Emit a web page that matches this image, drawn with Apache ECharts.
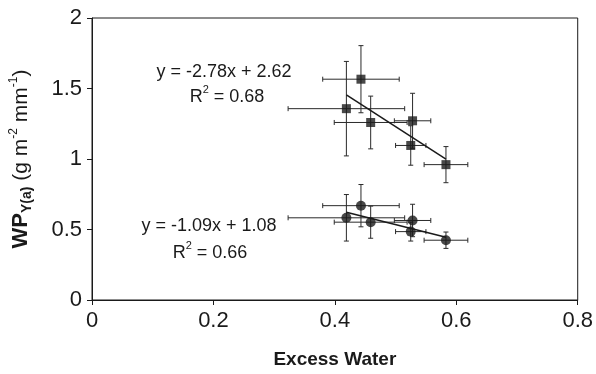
<!DOCTYPE html>
<html>
<head>
<meta charset="utf-8">
<script src="https://cdn.jsdelivr.net/npm/echarts@6/dist/echarts.min.js"></script>
<style>html,body{margin:0;padding:0;background:#fff}#c{width:596px;height:374px}</style>
</head>
<body>
<div id="c"></div>
<script>
// Data
var xVals = [0.443, 0.419, 0.459, 0.528, 0.525, 0.583];
var xErr = [0.063, 0.096, 0.060, 0.030, 0.025, 0.036];
var squareY = [1.566, 1.357, 1.259, 1.271, 1.096, 0.960];
var squareErr = [0.238, 0.335, 0.187, 0.195, 0.140, 0.128];
var circleY = [0.669, 0.583, 0.552, 0.564, 0.485, 0.424];
var circleErr = [0.150, 0.165, 0.114, 0.115, 0.067, 0.058];
var trendX = [0.419, 0.583];
var squareTrend = [1.455, 0.999];
var circleTrend = [0.623, 0.445];
var xTicks = [0, 0.2, 0.4, 0.6, 0.8];
var yTicks = [0, 0.5, 1, 1.5, 2];
var squareEq = ['y = -2.78x + 2.62', '0.68'];
var circleEq = ['y = -1.09x + 1.08', '0.66'];

var FONT = '"Liberation Sans", Arial, sans-serif';
var INK = '#1a1a1a';

function pts(ys) { return xVals.map(function (x, i) { return [x, ys[i]]; }); }
function errData(ys, ye) { return xVals.map(function (x, i) { return [x, ys[i], xErr[i], ye[i]]; }); }
function trend(ys) { return trendX.map(function (x, i) { return [x, ys[i]]; }); }

function renderErr(params, api) {
  var x = api.value(0), y = api.value(1), dx = api.value(2), dy = api.value(3);
  var c = api.coord([x, y]);
  var l = api.coord([x - dx, y]), r = api.coord([x + dx, y]);
  var t = api.coord([x, y + dy]), b = api.coord([x, y - dy]);
  var cap = 2.5;
  var st = { stroke: '#2a2a2a', lineWidth: 1 };
  function ln(x1, y1, x2, y2) { return { type: 'line', shape: { x1: x1, y1: y1, x2: x2, y2: y2 }, style: st }; }
  return {
    type: 'group',
    children: [
      ln(l[0], c[1], r[0], c[1]),
      ln(l[0], c[1] - cap, l[0], c[1] + cap),
      ln(r[0], c[1] - cap, r[0], c[1] + cap),
      ln(c[0], t[1], c[0], b[1]),
      ln(c[0] - cap, t[1], c[0] + cap, t[1]),
      ln(c[0] - cap, b[1], c[0] + cap, b[1])
    ]
  };
}

function eqGraphics(eq, cx1, cy1, cx2, cy2) {
  return [
    { type: 'text', x: cx1, y: cy1, z: 10, style: { text: eq[0], align: 'center', verticalAlign: 'middle', fill: INK, fontSize: 18, fontFamily: FONT } },
    { type: 'text', x: cx2, y: cy2, z: 10, style: {
        text: '{n|R}{s|2}{n| = ' + eq[1] + '}', align: 'center', verticalAlign: 'middle',
        rich: {
          n: { fontSize: 18, fontFamily: FONT, fill: INK, verticalAlign: 'bottom', lineHeight: 22 },
          s: { fontSize: 11, fontFamily: FONT, fill: INK, verticalAlign: 'top', lineHeight: 22 }
        }
      } }
  ];
}

var chart = echarts.init(document.getElementById('c'), null, { renderer: 'canvas' });
var axisLine = { show: true, lineStyle: { color: INK, width: 1 } };
chart.setOption({
  animation: false,
  backgroundColor: '#fff',
  grid: { left: 88, right: 17, top: 18, bottom: 70, show: true, borderColor: INK, borderWidth: 1 },
  xAxis: {
    type: 'value', min: xTicks[0], max: xTicks[xTicks.length - 1], interval: 0.2,
    axisLine: axisLine, axisTick: { show: true, length: 5, lineStyle: { color: INK } },
    splitLine: { show: false },
    axisLabel: { fontSize: 22, fontFamily: FONT, color: INK, margin: 10, formatter: function (v) { return String(+v.toFixed(1)); } },
    name: 'Excess Water', nameLocation: 'middle', nameGap: 50,
    nameTextStyle: { fontSize: 19, fontWeight: 'bold', fontFamily: FONT, color: INK }
  },
  yAxis: {
    type: 'value', min: yTicks[0], max: yTicks[yTicks.length - 1], interval: 0.5,
    axisLine: axisLine, axisTick: { show: true, length: 5, lineStyle: { color: INK } },
    splitLine: { show: false },
    axisLabel: { fontSize: 22, fontFamily: FONT, color: INK, margin: 10, formatter: function (v) { return String(+v.toFixed(1)); } },
    name: '{b|WP}{bs|Y(a)}{n| (g m}{sp|-2}{n| mm}{sp|-1}{n|)}',
    nameLocation: 'middle', nameGap: 58, nameRotate: 90,
    nameTextStyle: {
      rich: {
        b: { fontSize: 22, fontWeight: 'bold', fontFamily: FONT, color: INK, verticalAlign: 'middle', lineHeight: 26 },
        bs: { fontSize: 14, fontWeight: 'bold', fontFamily: FONT, color: INK, verticalAlign: 'bottom', lineHeight: 26 },
        n: { fontSize: 21, fontFamily: FONT, color: INK, verticalAlign: 'middle', lineHeight: 26 },
        sp: { fontSize: 12, fontFamily: FONT, color: INK, verticalAlign: 'top', lineHeight: 26 }
      }
    }
  },
  graphic: [].concat(eqGraphics(squareEq, 224, 72, 227, 95), eqGraphics(circleEq, 209, 226, 210, 251)),
  series: [
    { type: 'custom', renderItem: renderErr, data: errData(squareY, squareErr), encode: { x: 0, y: 1 }, z: 2 },
    { type: 'custom', renderItem: renderErr, data: errData(circleY, circleErr), encode: { x: 0, y: 1 }, z: 2 },
    { type: 'line', data: trend(squareTrend), symbol: 'none', lineStyle: { color: INK, width: 1.5 }, z: 3 },
    { type: 'line', data: trend(circleTrend), symbol: 'none', lineStyle: { color: INK, width: 1.5 }, z: 3 },
    { type: 'scatter', data: pts(squareY), symbol: 'rect', symbolSize: 9, itemStyle: { color: INK }, z: 4 },
    { type: 'scatter', data: pts(circleY), symbol: 'circle', symbolSize: 10, itemStyle: { color: INK }, z: 4 }
  ]
});
</script>
</body>
</html>
